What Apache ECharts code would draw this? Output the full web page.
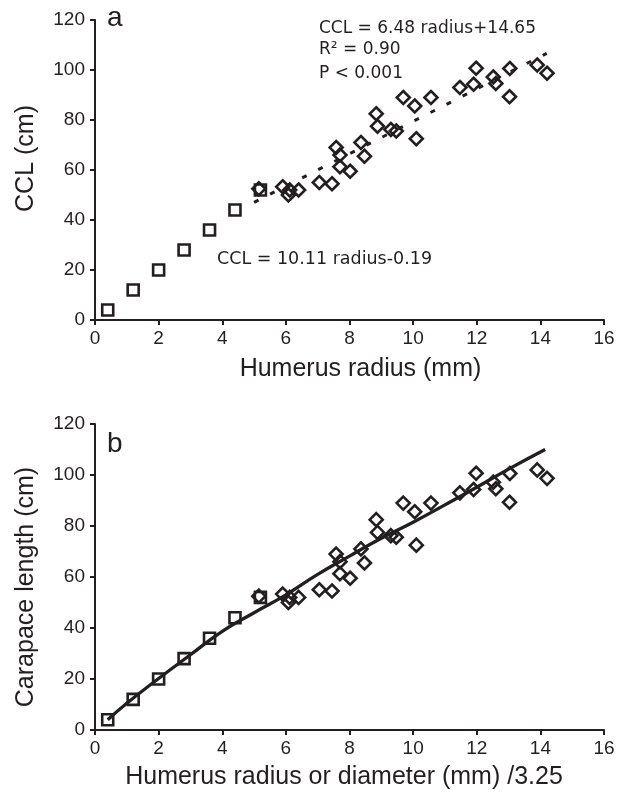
<!DOCTYPE html>
<html>
<head>
<meta charset="utf-8">
<script src="https://cdn.jsdelivr.net/npm/echarts@6/dist/echarts.min.js"></script>
<style>
html,body{margin:0;padding:0;background:#fff;}
#chart{width:623px;height:793px;}
</style>
</head>
<body>
<div id="chart"></div>
<script>
// Small squares (juveniles)
const squareX = [0.4, 1.2, 2.0, 2.8, 3.6, 4.4, 5.2];
const squareY = [4, 12, 20, 28, 36, 44, 52];
// Diamonds
const diamondX = [5.15, 5.9, 6.12, 6.08, 6.4, 7.05, 7.45, 7.58, 7.7, 7.7, 8.02, 8.36, 8.47, 8.84, 8.88, 9.3, 9.47, 9.69, 10.05, 10.1, 10.56, 11.47, 11.9, 11.98, 12.52, 12.6, 13.04, 13.03, 13.9, 14.21];
const diamondY = [52.5, 53.3, 52, 50, 52, 55, 54.5, 69, 66, 61.3, 59.5, 71, 65.5, 82.5, 77.5, 76.2, 75.6, 89, 85.6, 72.5, 89, 93, 94.3, 100.7, 97.2, 94.6, 100.6, 89.3, 102, 98.7];
// Dashed regression line (panel a), endpoints
const fitAX = [5.0, 14.2];
const fitAY = [47.05, 106.67];
// Solid curve (panel b)
const curveBX = [0.4, 1, 2, 3, 4, 5, 6, 7, 8, 9, 10, 11, 12, 13, 14.15];
const curveBY = [4, 10.5, 20.2, 29.5, 38.7, 46, 53, 61, 68.2, 75.2, 81.5, 88.3, 95.2, 102.3, 110];
// Axis settings
const xMin = 0, xMax = 16, xStep = 2;
const yMin = 0, yMax = 120, yStep = 20;
const panelLabels = ['a', 'b'];
const xTitles = ['Humerus radius (mm)', 'Humerus radius or diameter (mm) /3.25'];
const yTitles = ['CCL (cm)', 'Carapace length (cm)'];
const annotA = ['CCL = 6.48 radius+14.65', 'R² = 0.90', 'P < 0.001'];
const annotA2 = 'CCL = 10.11 radius-0.19';

const INK = '#231f20';
const FONT = 'Liberation Sans';
const zip = (xs, ys) => xs.map((x, i) => [x, ys[i]]);

function xAxisFor(i, gap, pad) {
  return {
    type: 'value', gridIndex: i, min: xMin, max: xMax, interval: xStep,
    name: xTitles[i], nameLocation: 'middle', nameGap: gap,
    nameTextStyle: { fontFamily: FONT, fontSize: 25, color: INK, padding: pad },
    axisLine: { show: true, onZero: false, lineStyle: { color: INK, width: 2 } },
    axisTick: { show: true, inside: false, length: 5, lineStyle: { color: INK, width: 2 } },
    axisLabel: { fontFamily: FONT, fontSize: 19, color: INK, margin: 9 },
    splitLine: { show: false }
  };
}
function yAxisFor(i, gap, pad) {
  return {
    type: 'value', gridIndex: i, min: yMin, max: yMax, interval: yStep,
    name: yTitles[i], nameLocation: 'middle', nameGap: gap, nameRotate: 90,
    nameTextStyle: { fontFamily: FONT, fontSize: 25, color: INK, padding: pad },
    axisLine: { show: true, onZero: false, lineStyle: { color: INK, width: 2 } },
    axisTick: { show: true, inside: false, length: 5, lineStyle: { color: INK, width: 2 } },
    axisLabel: { fontFamily: FONT, fontSize: 19, color: INK, margin: 10 },
    splitLine: { show: false }
  };
}
const hollow = { color: 'rgba(0,0,0,0)', borderColor: INK, borderWidth: 2.6, opacity: 1 };

function markers(i) {
  return [
    { type: 'scatter', xAxisIndex: i, yAxisIndex: i, data: zip(squareX, squareY),
      symbol: 'rect', symbolSize: 11, itemStyle: hollow, z: 3 },
    { type: 'scatter', xAxisIndex: i, yAxisIndex: i, data: zip(diamondX, diamondY),
      symbol: 'diamond', symbolSize: 13, itemStyle: hollow, z: 3 }
  ];
}

const chart = echarts.init(document.getElementById('chart'), null, { renderer: 'canvas' });
chart.setOption({
  backgroundColor: '#ffffff',
  animation: false,
  grid: [
    { left: 95, top: 20, width: 509, height: 300 },
    { left: 95, top: 424, width: 509, height: 306 }
  ],
  xAxis: [xAxisFor(0, 37, [0, 0, 0, 22]), xAxisFor(1, 35, [0, 11, 0, 0])],
  yAxis: [yAxisFor(0, 56, [0, 0, 0, 23]), yAxisFor(1, 56, [0, 20, 0, 0])],
  series: [
    ...markers(0),
    { type: 'line', xAxisIndex: 0, yAxisIndex: 0, data: zip(fitAX, fitAY), showSymbol: false,
      lineStyle: { color: INK, width: 3, type: [5, 13] }, z: 4 },
    ...markers(1),
    { type: 'line', xAxisIndex: 1, yAxisIndex: 1, data: zip(curveBX, curveBY), showSymbol: false, smooth: true,
      lineStyle: { color: INK, width: 3.3 }, z: 4 }
  ],
  graphic: [
    { type: 'text', style: { x: 107, y: 18, text: panelLabels[0], font: '28px "Liberation Sans"', fill: INK, verticalAlign: 'middle' } },
    { type: 'text', style: { x: 107, y: 444, text: panelLabels[1], font: '28px "Liberation Sans"', fill: INK, verticalAlign: 'middle' } },
    { type: 'text', style: { x: 319, y: 29, text: annotA[0], font: '17px "DejaVu Sans"', fill: INK, verticalAlign: 'middle' } },
    { type: 'text', style: { x: 319, y: 50, text: annotA[1], font: '17px "DejaVu Sans"', fill: INK, verticalAlign: 'middle' } },
    { type: 'text', style: { x: 319, y: 74, text: annotA[2], font: '17px "DejaVu Sans"', fill: INK, verticalAlign: 'middle' } },
    { type: 'text', style: { x: 217, y: 259, text: annotA2, font: '17.5px "DejaVu Sans"', fill: INK, verticalAlign: 'middle' } }
  ]
});
</script>
</body>
</html>
